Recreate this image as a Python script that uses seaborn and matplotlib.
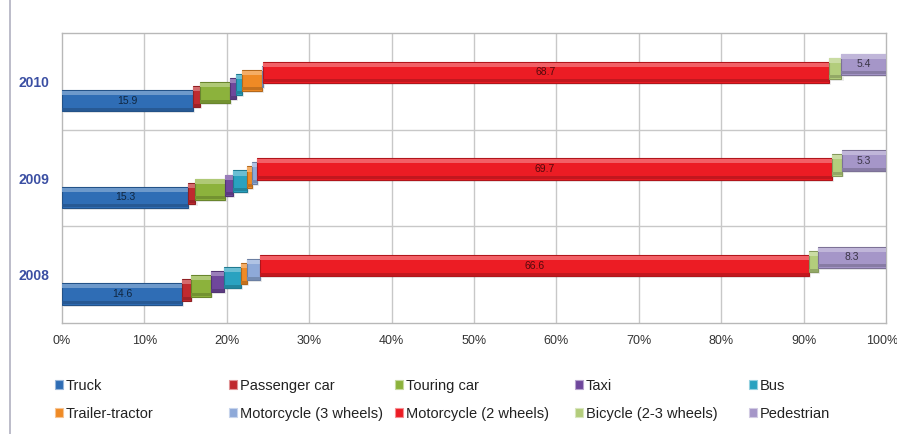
import matplotlib
matplotlib.use("Agg")
import matplotlib.pyplot as plt
from matplotlib.lines import Line2D
from matplotlib import colors as mcolors
from matplotlib.transforms import ScaledTranslation
import numpy as np
import pandas as pd
import seaborn as sns

# Share (%) of road-accident casualties by road-user type
years = ["2008", "2009", "2010"]
categories = ["Truck", "Passenger car", "Touring car", "Taxi", "Bus",
              "Trailer-tractor", "Motorcycle (3 wheels)", "Motorcycle (2 wheels)",
              "Bicycle (2-3 wheels)", "Pedestrian"]
share_2008 = [14.6, 1.1, 2.4, 1.6, 2.0, 0.8, 1.5, 66.6, 1.1, 8.3]
share_2009 = [15.3, 0.9, 3.6, 1.0, 1.6, 0.7, 0.6, 69.7, 1.3, 5.3]
share_2010 = [15.9, 0.9, 3.6, 0.7, 0.8, 2.4, 0.1, 68.7, 1.5, 5.4]
labelled = ["Truck", "Motorcycle (2 wheels)", "Pedestrian"]
palette = ["#2f6db5", "#c02a2f", "#8cb23c", "#6f479c", "#2aa2c0",
           "#ef8a25", "#8ea9d8", "#ec1c24", "#b3cd7c", "#a596c8"]
x_ticks = [0, 10, 20, 30, 40, 50, 60, 70, 80, 90, 100]

df = pd.DataFrame({"2008": share_2008, "2009": share_2009, "2010": share_2010},
                  index=categories)

sns.set_theme(style="white")
plt.rcParams["font.family"] = ["Liberation Sans", "DejaVu Sans"]

fig = plt.figure(figsize=(8.97, 4.34), dpi=100)
ax = fig.add_axes([0.0691, 0.2558, 0.9186, 0.668])

bar_h = 0.22
base_off = -0.20     # vertical offset of the first series
step = 0.042         # each following series sits a little higher (depth effect)


def darker(c, f=0.7):
    r, g, b = mcolors.to_rgb(c)
    return (r * f, g * f, b * f)


def lighter(c, f=0.45):
    r, g, b = mcolors.to_rgb(c)
    return (r + (1 - r) * f, g + (1 - g) * f, b + (1 - b) * f)


for yi, year in enumerate(years):
    vals = df[year].to_numpy()
    lefts = np.concatenate([[0], np.cumsum(vals)[:-1]])
    for si, (cat, v, l) in enumerate(zip(categories, vals, lefts)):
        col = palette[si]
        yc = yi + base_off + step * si
        # soft drop shadow
        ax.barh(yc - 0.02, v, left=l + 0.25, height=bar_h, color="#000000",
                alpha=0.08, linewidth=0, zorder=3 + si * 0.1)
        # body
        ax.barh(yc, v, left=l, height=bar_h, color=col,
                edgecolor=darker(col, 0.75), linewidth=0.8, zorder=4 + si * 0.1)
        # top bevel highlight
        ax.barh(yc + bar_h * 0.36, v, left=l, height=bar_h * 0.20,
                color=lighter(col, 0.30), linewidth=0, zorder=4.05 + si * 0.1)
        # bottom bevel shade
        ax.barh(yc - bar_h * 0.40, v, left=l, height=bar_h * 0.14,
                color=darker(col, 0.82), linewidth=0, zorder=4.05 + si * 0.1)
        if cat in labelled:
            ax.text(l + v / 2, yc, f"{v:.1f}", ha="center", va="center",
                    fontsize=7.5, color=darker(col, 0.35), zorder=10)

ax.set_xlim(0, 100)
ax.set_ylim(-0.5, 2.5)
ax.set_xticks(x_ticks)
ax.set_xticklabels([f"{t}%" for t in x_ticks], fontsize=9, color="#333333")
ax.tick_params(axis="x", length=0, pad=9)
# keep the last tick label inside the figure edge
last = ax.get_xticklabels()[-1]
last.set_transform(last.get_transform() + ScaledTranslation(-4 / 100, 0, fig.dpi_scale_trans))
ax.set_yticks(range(len(years)))
ax.set_yticklabels(years, fontsize=10, fontweight="bold", color="#3b4fa3")
ax.tick_params(axis="y", length=3, color="#999999", pad=6)

for t in x_ticks[1:-1]:
    ax.axvline(t, color="#c8c8c8", linewidth=1, zorder=1)
for b in [0.5, 1.5]:
    ax.axhline(b, color="#c8c8c8", linewidth=1, zorder=1)
for s in ax.spines.values():
    s.set_color("#b8b8b8")
    s.set_linewidth(1)

# Legend: five columns of two rows, read row by row
col_left = [55, 229, 395, 575, 749]
for c, xpx in enumerate(col_left):
    idx = [c, c + 5]
    hs = [plt.Rectangle((0, 0), 1, 1, facecolor=palette[i],
                        edgecolor=lighter(palette[i], 0.5), linewidth=0.8)
          for i in idx]
    fig.legend(hs, [categories[i] for i in idx], loc="upper left",
               bbox_to_anchor=(xpx / 897, 1 - 379 / 434), frameon=False,
               fontsize=10.5, handlelength=0.55, handleheight=0.55,
               handletextpad=0.2, labelspacing=0.95, borderpad=0,
               borderaxespad=0, labelcolor="#222222")

fig.add_artist(Line2D([0.0115, 0.0115], [0.0, 1.0], color="#b0b0c0",
                      linewidth=1.2, transform=fig.transFigure))

fig.savefig("out.png", dpi=100)
